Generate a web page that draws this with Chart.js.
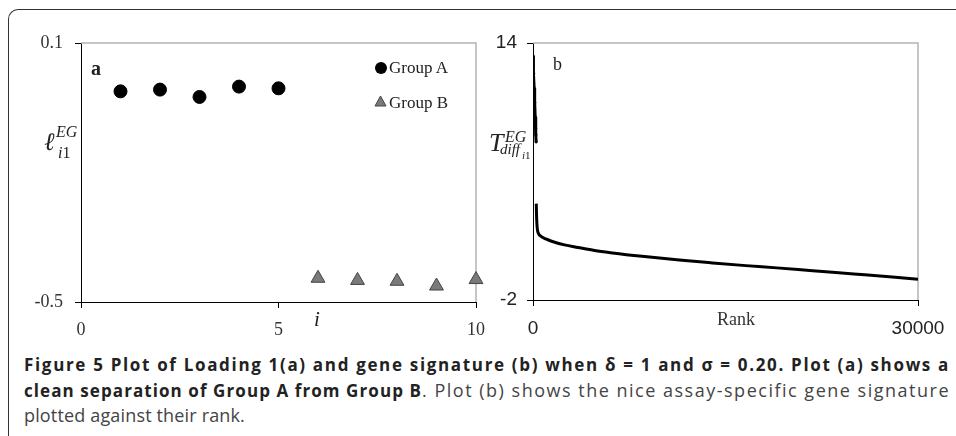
<!DOCTYPE html>
<html lang="en">
<head>
<meta charset="UTF-8" />
<title>Figure 5</title>
<script src="https://cdn.jsdelivr.net/npm/chart.js"></script>
<style>
  html, body { margin: 0; padding: 0; background: #fff; }
  #wrap { position: relative; width: 956px; height: 436px; overflow: hidden; background: #fff; }
  .frame { position: absolute; left: 8px; top: 9px; width: 980px; height: 460px;
           border-top: 1.5px solid #333; border-left: 1.5px solid #333; border-top-left-radius: 10px; }
  canvas { position: absolute; top: 0; }
  .t { position: absolute; line-height: 1; white-space: nowrap; color: #222;
       font-family: 'Liberation Serif', 'Times New Roman', serif; }
  .it { font-style: italic; }
  .cap { position: absolute; left: 24px; top: 352.4px; font-family: 'Open Sans', sans-serif;
         font-size: 18px; line-height: 24.5px; color: #444; white-space: nowrap; }
  .cap b { color: #222; font-weight: 700; font-size: 17px; }
</style>
</head>
<body>
<div id="wrap">
  <div class="frame"></div>
  <canvas id="chartA" width="500" height="345" style="left:0"></canvas>
  <canvas id="chartB" width="476" height="345" style="left:480px"></canvas>

  <!-- panel a labels -->
  <div class="t" style="left:91px;top:58px;font-size:20px;font-weight:bold">a</div>
  <div style="position:absolute;left:374.5px;top:61.5px;width:12.5px;height:12.5px;border-radius:50%;background:#000"></div>
  <svg style="position:absolute;left:374px;top:95px" width="13" height="12"><polygon points="6.5,1 12,11 1,11" fill="#7a7a7a" stroke="#444" stroke-width="1"/></svg>
  <div class="t" style="left:389px;top:58.8px;font-size:17px">Group A</div>
  <div class="t" style="left:389px;top:93.8px;font-size:17px">Group B</div>
  <div class="t it" style="left:314px;top:309.4px;font-size:21px">i</div>
  <div class="t it" style="left:44px;top:129px;font-size:25px">ℓ</div>
  <div class="t it" style="left:56px;top:123.6px;font-size:16px">EG</div>
  <div class="t" style="left:58px;top:144.6px;font-size:16px"><span class="it">i</span>1</div>

  <!-- panel b labels -->
  <div class="t" style="left:553px;top:55.4px;font-size:18px">b</div>
  <div class="t it" style="left:489px;top:130.2px;font-size:26px">T</div>
  <div class="t it" style="left:505px;top:128.6px;font-size:16px">EG</div>
  <div class="t it" style="left:500px;top:142.4px;font-size:15px">diff</div>
  <div class="t" style="left:522px;top:149.8px;font-size:11px"><span class="it">i</span>1</div>
  <div class="t" style="left:717px;top:309.9px;font-size:18px;color:#333">Rank</div>

  <div class="cap" id="cap">
    <div><b id="c1">Figure 5 Plot of Loading 1(a) and gene signature (b) when δ = 1 and σ = 0.20. Plot (a) shows a</b></div>
    <div><b id="c2">clean separation of Group A from Group B</b><span id="c3">. Plot (b) shows the nice assay-specific gene signature</span></div>
    <div><span id="c4">plotted against their rank.</span></div>
  </div>
</div>

<script>
  // Panel a: loading 1 per sample
  const groupAx = [1, 2, 3, 4, 5];
  const groupAy = [-0.012, -0.008, -0.025, -0.001, -0.005];
  const groupBx = [6, 7, 8, 9, 10];
  const groupBy = [-0.445, -0.450, -0.452, -0.463, -0.448];
  const xTicksA = [0, 5, 10];
  const yTicksA = [-0.5, 0.1];

  // Panel b: gene signature vs rank
  const upperRank = [0, 20, 50, 90, 130, 170, 200, 225, 245];
  const upperT = [13.2, 12.6, 12.1, 11.2, 10.3, 9.4, 8.7, 8.3, 7.85];
  const lowerRank = [255, 275, 300, 340, 420, 650, 1000, 1450, 2450, 3500, 4800, 6200, 8500, 11400, 14000, 16600, 19000, 21800, 25000, 28000, 30000];
  const lowerT = [4.0, 3.3, 2.8, 2.4, 2.15, 1.95, 1.8, 1.66, 1.43, 1.27, 1.08, 0.93, 0.72, 0.49, 0.31, 0.14, 0.0, -0.18, -0.38, -0.57, -0.71];
  const xTicksB = [0, 30000];
  const yTicksB = [-2, 14];

  const toPoints = (xs, ys) => xs.map((x, i) => ({ x: x, y: ys[i] }));

  // grey top/right border of the plot area
  const frameBox = {
    id: 'frameBox',
    beforeDatasetsDraw(chart) {
      const { ctx, chartArea: c } = chart;
      ctx.save();
      ctx.strokeStyle = '#b4b4b4';
      ctx.lineWidth = 1.5;
      ctx.beginPath();
      ctx.moveTo(c.left, c.top);
      ctx.lineTo(c.right, c.top);
      ctx.lineTo(c.right, c.bottom);
      ctx.stroke();
      ctx.restore();
    }
  };

  function axis(opts) {
    return {
      type: 'linear',
      min: opts.min,
      max: opts.max,
      afterBuildTicks: s => { s.ticks = opts.ticks.map(v => ({ value: v })); },
      afterFit: s => { if (opts.width) s.width = opts.width; if (opts.height) s.height = opts.height; },
      grid: { drawOnChartArea: false, drawTicks: true, tickLength: 6, color: '#000', lineWidth: 1 },
      border: { display: true, color: '#000', width: 1 },
      ticks: {
        autoSkip: false,
        maxRotation: 0,
        padding: opts.padding,
        color: opts.color,
        font: opts.font,
        callback: v => String(v)
      }
    };
  }

  const serif = { family: "'Liberation Serif', 'Times New Roman', serif", size: 18 };
  const sans = { family: "'Liberation Sans', Arial, sans-serif", size: 19 };

  new Chart(document.getElementById('chartA'), {
    type: 'scatter',
    data: {
      datasets: [
        {
          label: 'Group A',
          data: toPoints(groupAx, groupAy),
          pointStyle: 'circle',
          pointRadius: 6.5,
          backgroundColor: '#000',
          borderColor: '#000',
          borderWidth: 1,
          clip: false
        },
        {
          label: 'Group B',
          data: toPoints(groupBx, groupBy),
          pointStyle: 'triangle',
          pointRadius: 8,
          backgroundColor: '#7a7a7a',
          borderColor: '#444',
          borderWidth: 1,
          clip: false
        }
      ]
    },
    options: {
      responsive: false,
      animation: false,
      layout: { padding: { top: 43, right: 24, left: 0, bottom: 0 } },
      plugins: { legend: { display: false }, tooltip: { enabled: false } },
      scales: {
        x: axis({ min: 0, max: 10, ticks: xTicksA, height: 43, padding: 11, color: '#333', font: serif }),
        y: axis({ min: -0.5, max: 0.1, ticks: yTicksA, width: 81, padding: 12, color: '#333', font: serif })
      }
    },
    plugins: [frameBox]
  });

  new Chart(document.getElementById('chartB'), {
    type: 'scatter',
    data: {
      datasets: [
        {
          label: 'top genes',
          data: toPoints(upperRank, upperT),
          showLine: true,
          borderColor: '#000',
          borderWidth: 3,
          pointRadius: 1.6,
          pointBackgroundColor: '#000',
          pointBorderWidth: 0
        },
        {
          label: 'remaining genes',
          data: toPoints(lowerRank, lowerT),
          showLine: true,
          borderColor: '#000',
          borderWidth: 3,
          pointRadius: 0,
          cubicInterpolationMode: 'monotone'
        }
      ]
    },
    options: {
      responsive: false,
      animation: false,
      layout: { padding: { top: 43, right: 38, left: 0, bottom: 0 } },
      plugins: { legend: { display: false }, tooltip: { enabled: false } },
      scales: {
        x: axis({ min: 0, max: 30000, ticks: xTicksB, height: 45, padding: 11, color: '#222', font: sans }),
        y: axis({ min: -2, max: 14, ticks: yTicksB, width: 53, padding: 10, color: '#222', font: sans })
      }
    },
    plugins: [frameBox]
  });

  // caption pieces: stretch/squeeze each one to the width it has in the figure
  function fit(id, target) {
    const el = document.getElementById(id);
    const w = el.getBoundingClientRect().width;
    el.style.letterSpacing = ((target - w) / el.textContent.length) + 'px';
  }
  fit('c1', 926);
  fit('c2', 398);
  fit('c3', 528);
  fit('c4', 221);
</script>
</body>
</html>
